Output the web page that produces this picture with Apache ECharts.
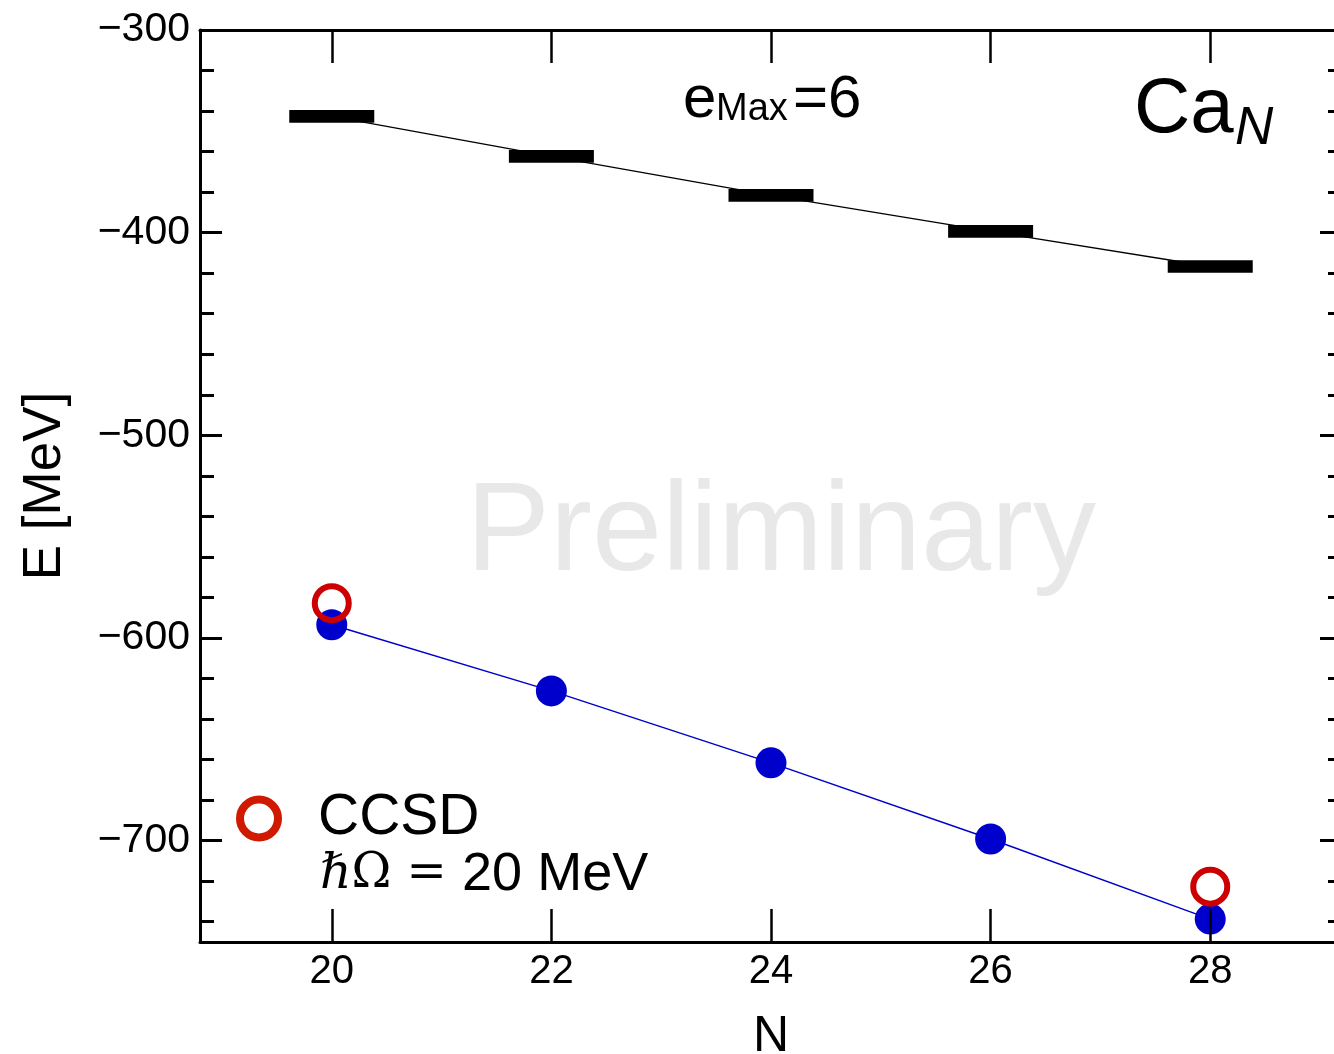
<!DOCTYPE html>
<html>
<head>
<meta charset="utf-8">
<title>Ca isotopes ground-state energies</title>
<script src="https://cdn.jsdelivr.net/npm/echarts@6/dist/echarts.min.js"></script>
<style>
  html, body { margin: 0; padding: 0; background: #ffffff; }
  #chart { width: 1334px; height: 1054px; }
</style>
</head>
<body>
<div id="chart"></div>
<script>
// Neutron number of each calcium isotope
const neutronNumbers = [20, 22, 24, 26, 28];
// Energies (MeV) drawn as horizontal black levels
const levelEnergies = [-342.6, -362.4, -381.6, -399.4, -416.7];
// Energies (MeV) drawn as filled blue dots
const dotEnergies = [-593.5, -626.1, -661.6, -699.2, -738.7];
// CCSD results (MeV), hbar*Omega = 20 MeV
const ccsdNeutrons = [20, 28];
const ccsdEnergies = [-582.8, -722.7];

// Axis ticks
const xTickValues = [20, 22, 24, 26, 28];
const yMajorTicks = [-700, -600, -500, -400, -300];
const yMinorTicks = [-740, -720, -680, -660, -640, -620, -580, -560, -540, -520,
                     -480, -460, -440, -420, -380, -360, -340, -320];

const FONT = '"Liberation Sans", Helvetica, Arial, sans-serif';
const pairs = (xs, ys) => xs.map((x, i) => [x, ys[i]]);
const minus = v => String(v).replace('-', '\u2212');

const chart = echarts.init(document.getElementById('chart'), null, { renderer: 'canvas' });

const xRange = { min: 18.8, max: 29.2 };
const yRange = { min: -750, max: -300 };

function xAxisDef(position, withLabels) {
  return Object.assign({
    type: 'value',
    position: position,
    z: 5,
    axisLine: { show: true, onZero: false, lineStyle: { color: '#000', width: 3 } },
    axisTick: { show: true, inside: true, length: 33, customValues: xTickValues,
                lineStyle: { color: '#000', width: 2.5 } },
    axisLabel: withLabels
      ? { show: true, customValues: xTickValues, fontSize: 40, color: '#000',
          fontFamily: FONT, margin: 10 }
      : { show: false },
    splitLine: { show: false }
  }, xRange);
}

function yAxisDef(position, ticks, len, withLabels, withLine) {
  return Object.assign({
    type: 'value',
    position: position,
    axisLine: { show: withLine, onZero: false, lineStyle: { color: '#000', width: 3 } },
    axisTick: { show: true, inside: true, length: len, customValues: ticks,
                lineStyle: { color: '#000', width: 3 } },
    axisLabel: withLabels
      ? { show: true, customValues: yMajorTicks, fontSize: 41, color: '#000',
          fontFamily: FONT, margin: 10, formatter: minus }
      : { show: false },
    splitLine: { show: false }
  }, yRange);
}

const xBottom = xAxisDef('bottom', true);
xBottom.name = 'N';
xBottom.nameLocation = 'middle';
xBottom.nameGap = 70;
xBottom.nameTextStyle = { fontSize: 50, color: '#000', fontFamily: FONT };

const yLeft = yAxisDef('left', yMajorTicks, 22, true, true);
yLeft.name = 'E [MeV]';
yLeft.nameLocation = 'middle';
yLeft.nameGap = 128;
yLeft.nameTextStyle = { fontSize: 53, color: '#000', fontFamily: FONT };

const option = {
  animation: false,
  backgroundColor: '#ffffff',
  textStyle: { fontFamily: FONT },
  grid: { left: 200, right: -8, top: 30, bottom: 112, containLabel: false, outerBoundsMode: 'none' },
  xAxis: [xBottom, xAxisDef('top', false)],
  yAxis: [
    yLeft,
    yAxisDef('left', yMinorTicks, 14, false, false),
    yAxisDef('right', yMajorTicks, 22, false, true),
    yAxisDef('right', yMinorTicks, 14, false, false)
  ],
  legend: {
    data: ['CCSD'],
    left: 236,
    top: 790,
    padding: 0,
    itemWidth: 38,
    itemHeight: 38,
    icon: 'circle',
    itemStyle: { color: 'rgba(0,0,0,0)', borderColor: '#d01a00', borderWidth: 8 },
    formatter: name => '{a|' + name + '}',
    textStyle: {
      color: '#000',
      rich: { a: { fontSize: 57, lineHeight: 57, fontFamily: FONT, color: '#000', padding: [0, 0, 0, 35] } }
    }
  },
  graphic: [
    { type: 'text', x: 781, y: 535, z: -10, silent: true,
      style: { text: 'Preliminary', fontSize: 126, fontFamily: FONT, fill: '#e8e8e8',
               align: 'center', verticalAlign: 'middle' } },
    { type: 'text', x: 683, y: 100,
      style: { text: 'e', fontSize: 60, fontFamily: FONT, fill: '#000', verticalAlign: 'middle' } },
    { type: 'text', x: 716, y: 110,
      style: { text: 'Max', fontSize: 38, fontFamily: FONT, fill: '#000', verticalAlign: 'middle' } },
    { type: 'text', x: 793, y: 100,
      style: { text: '=6', fontSize: 60, fontFamily: FONT, fill: '#000', verticalAlign: 'middle' } },
    { type: 'text', x: 1134, y: 110,
      style: { text: 'Ca', fontSize: 78, fontFamily: FONT, fill: '#000', verticalAlign: 'middle' } },
    { type: 'text', x: 1235, y: 129,
      style: { text: 'N', fontSize: 53, fontStyle: 'italic', fontFamily: FONT, fill: '#000', verticalAlign: 'middle' } },
    { type: 'text', x: 320, y: 875,
      style: {
        text: '{h|\u210F}{o|\u03A9}{e| = }{r|20 MeV}',
        verticalAlign: 'middle',
        rich: {
          h: { fontSize: 49, fontFamily: '"DejaVu Serif", serif', fontStyle: 'italic', fill: '#000' },
          o: { fontSize: 48, fontFamily: '"DejaVu Serif", serif', fill: '#000' },
          e: { fontSize: 48, fontFamily: '"DejaVu Serif", serif', fill: '#000' },
          r: { fontSize: 54, fontFamily: FONT, fill: '#000' }
        }
      } }
  ],
  series: [
    {
      name: 'levels',
      type: 'line',
      data: pairs(neutronNumbers, levelEnergies),
      symbol: 'rect',
      symbolSize: [85, 12.7],
      itemStyle: { color: '#000' },
      lineStyle: { color: '#000', width: 1.3 },
      z: 3
    },
    {
      name: 'dots',
      type: 'line',
      data: pairs(neutronNumbers, dotEnergies),
      symbol: 'circle',
      symbolSize: 31,
      itemStyle: { color: '#0000cc' },
      lineStyle: { color: '#0000cc', width: 1.5 },
      z: 3
    },
    {
      name: 'CCSD',
      type: 'scatter',
      data: pairs(ccsdNeutrons, ccsdEnergies),
      symbol: 'circle',
      symbolSize: 34,
      itemStyle: { color: 'rgba(0,0,0,0)', borderColor: '#cc0000', borderWidth: 6, opacity: 1 },
      z: 4
    }
  ]
};

chart.setOption(option);
</script>
</body>
</html>
